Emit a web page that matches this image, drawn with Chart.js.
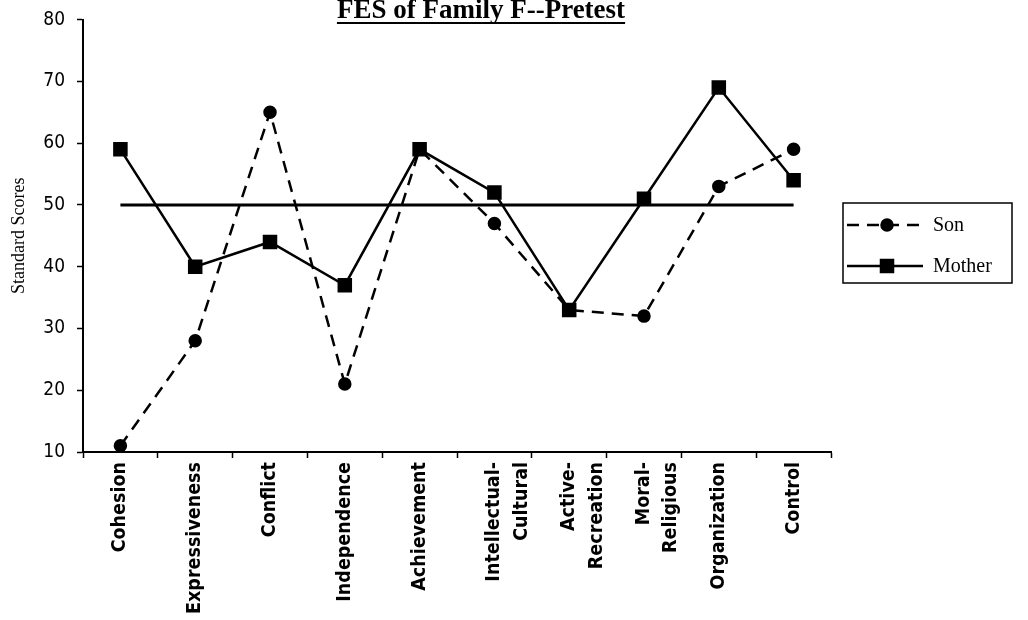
<!DOCTYPE html>
<html>
<head>
<meta charset="utf-8">
<script src="https://cdn.jsdelivr.net/npm/chart.js@4.4.0/dist/chart.umd.min.js"></script>
<style>
  html, body { margin: 0; padding: 0; background: #fff; }
  #wrap { width: 1028px; height: 620px; }
</style>
</head>
<body>
<div id="wrap"><canvas id="fes-canv"></canvas></div>
<script>
// FES subscales
const categories = [
    'Cohesion',
    'Expressiveness',
    'Conflict',
    'Independence',
    'Achievement',
    ['Intellectual-', 'Cultural'],
    ['Active-', 'Recreation'],
    ['Moral-', 'Religious'],
    'Organization',
    'Control',
    ];

const sonScores = [11, 28, 65, 21, 59, 47, 33, 32, 53, 59];
const motherScores = [59, 40, 44, 37, 59, 52, 33, 51, 69, 54];
const normScores = [50, 50, 50, 50, 50, 50, 50, 50, 50, 50];

const yMin = 10;
const yMax = 80;
const yStep = 10;

const black = '#000';
const narrow = "'DejaVu Sans Condensed', 'Liberation Sans', sans-serif";
const serif = "'Liberation Serif', 'DejaVu Serif', serif";

// title drawn by hand so it can be underlined and sit above the plot
const underlinedTitle = {
    id: 'underlinedTitle',
    afterDraw(chart) {
        const ctx = chart.ctx;
        const text = 'FES of Family F--Pretest';
        ctx.save();
        ctx.font = "bold 27px " + serif;
        ctx.fillStyle = black;
        ctx.textAlign = 'center';
        ctx.textBaseline = 'alphabetic';
        const cx = 481, base = 18;
        ctx.fillText(text, cx, base);
        const w = ctx.measureText(text).width;
        ctx.fillRect(cx - w / 2, base + 4, w, 2);
        ctx.restore();
    }
};

// boxed legend with line + marker samples
const boxLegend = {
    id: 'boxLegend',
    afterDraw(chart) {
        const ctx = chart.ctx;
        const area = chart.chartArea;
        const x0 = area.right + 12, y0 = 203, w = 169, h = 80;
        ctx.save();
        ctx.strokeStyle = black;
        ctx.fillStyle = black;
        ctx.lineWidth = 1.5;
        ctx.strokeRect(x0, y0, w, h);
        const items = chart.data.datasets.filter(ds => !ds.noLegend);
        items.forEach((ds, i) => {
            const y = y0 + 22 + i * 41;
            ctx.lineWidth = ds.borderWidth;
            ctx.setLineDash(ds.borderDash || []);
            ctx.beginPath();
            ctx.moveTo(x0 + 4, y);
            ctx.lineTo(x0 + 80, y);
            ctx.stroke();
            ctx.setLineDash([]);
            Chart.helpers.drawPoint(ctx, {
                pointStyle: ds.pointStyle,
                radius: ds.pointRadius,
                rotation: 0,
                borderWidth: 1
            }, x0 + 44, y);
            ctx.font = "20px " + serif;
            ctx.textAlign = 'left';
            ctx.textBaseline = 'middle';
            ctx.fillText(ds.label, x0 + 90, y + 1);
        });
        ctx.restore();
    }
};

const data = {
    labels: categories,
    datasets: [{
        label: 'Son',
        data: sonScores,
        borderColor: black,
        backgroundColor: black,
        borderWidth: 2.5,
        borderDash: [12, 8],
        pointStyle: 'circle',
        pointRadius: 5.5,
        pointBackgroundColor: black,
        pointBorderColor: black,
        },
        {
        label: 'Mother',
        data: motherScores,
        borderColor: black,
        backgroundColor: black,
        borderWidth: 2.5,
        pointStyle: 'rect',
        pointRadius: 8.5,
        pointBackgroundColor: black,
        pointBorderColor: black,
        },
        {
        label: 'Norm',
        data: normScores,
        noLegend: true,
        borderColor: black,
        borderWidth: 3,
        pointRadius: 0,
        }]
    };

const config = {
    type: 'line',
    data,
    options: {
        animation: false,
        responsive: true,
        maintainAspectRatio: false,
        layout: {
            padding: { top: 19, right: 197, left: 0, bottom: 0 }
        },
        scales: {
            x: {
                offset: true,
                afterFit: (scale) => { scale.height = 168; },
                border: { color: black, width: 2 },
                grid: {
                    display: true,
                    offset: true,
                    drawOnChartArea: false,
                    drawTicks: true,
                    tickLength: 6,
                    tickWidth: 1.5,
                    color: black
                },
                ticks: {
                    autoSkip: false,
                    minRotation: 90,
                    maxRotation: 90,
                    color: black,
                    padding: 4,
                    font: { size: 19.5, weight: 'bold', family: narrow, lineHeight: 1.4 }
                }
            },
            y: {
                min: yMin,
                max: yMax,
                afterFit: (scale) => { scale.width = 83; },
                border: { color: black, width: 2 },
                grid: {
                    display: true,
                    drawOnChartArea: false,
                    drawTicks: true,
                    tickLength: 6,
                    tickWidth: 1.5,
                    color: black
                },
                ticks: {
                    stepSize: yStep,
                    color: black,
                    padding: 12,
                    font: { size: 19, family: narrow, lineHeight: 0.8 }
                },
                title: {
                    display: true,
                    text: 'Standard Scores',
                    color: black,
                    padding: { top: 8, bottom: 0 },
                    font: { size: 18, family: serif }
                }
            }
        },
        plugins: {
            legend: { display: false },
            title: { display: false },
            tooltip: { enabled: false }
        }
    },
    plugins: [underlinedTitle, boxLegend]
    };

var fesChart = new Chart(
    document.getElementById('fes-canv'),
    config
);
</script>
</body>
</html>
